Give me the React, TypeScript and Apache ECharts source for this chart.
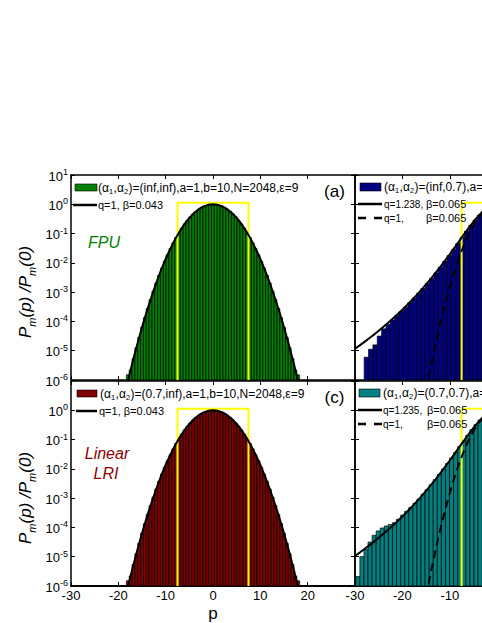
import React, { useEffect, useRef } from 'react';
import * as echarts from 'echarts';

const FONT = '"Liberation Sans", Arial, Helvetica, sans-serif';

// ---------- data ----------
const X_MIN = -30;
const Y_MIN = 1e-6;
const Y_MAX = 10;

// Gaussian fit q=1, beta=0.043 (panels a, c)
const GAUSS_P = [-18, -17, -16, -15, -14, -13, -12, -11, -10, -9, -8, -7, -6, -5, -4, -3, -2, -1, 0, 1, 2, 3, 4, 5, 6, 7, 8, 9, 10, 11, 12, 13, 14, 15, 16, 17, 18];
const CURVE_A = [8.9e-7, 4.01e-6, 1.66e-5, 6.28e-5, 2.19e-4, 6.98e-4, 2.04e-3, 5.5e-3, 1.357e-2, 3.07e-2, 6.38e-2, 0.1216, 0.213, 0.341, 0.503, 0.679, 0.842, 0.958, 1, 0.958, 0.842, 0.679, 0.503, 0.341, 0.213, 0.1216, 6.38e-2, 3.07e-2, 1.357e-2, 5.5e-3, 2.04e-3, 6.98e-4, 2.19e-4, 6.28e-5, 1.66e-5, 4.01e-6, 8.9e-7];
const CURVE_C = [8.9e-7, 4.01e-6, 1.66e-5, 6.28e-5, 2.19e-4, 6.98e-4, 2.04e-3, 5.5e-3, 1.357e-2, 3.07e-2, 6.38e-2, 0.1216, 0.213, 0.341, 0.503, 0.679, 0.842, 0.958, 1, 0.958, 0.842, 0.679, 0.503, 0.341, 0.213, 0.1216, 6.38e-2, 3.07e-2, 1.357e-2, 5.5e-3, 2.04e-3, 6.98e-4, 2.19e-4, 6.28e-5, 1.66e-5, 4.01e-6, 8.9e-7];

// histogram (a), (c)
const BIN_W_AC = 0.6;
const BAR_AC_P = [-18, -17.4, -16.8, -16.2, -15.6, -15, -14.4, -13.8, -13.2, -12.6, -12, -11.4, -10.8, -10.2, -9.6, -9, -8.4, -7.8, -7.2, -6.6, -6, -5.4, -4.8, -4.2, -3.6, -3, -2.4, -1.8, -1.2, -0.6, 0, 0.6, 1.2, 1.8, 2.4, 3, 3.6, 4.2, 4.8, 5.4, 6, 6.6, 7.2, 7.8, 8.4, 9, 9.6, 10.2, 10.8, 11.4, 12, 12.6, 13.2, 13.8, 14.4, 15, 15.6, 16.2, 16.8, 17.4, 18];
const BAR_A_V = [1.5e-6, 2.2e-6, 5.4e-6, 1.26e-5, 2.86e-5, 6.3e-5, 1.34e-4, 2.78e-4, 5.57e-4, 1.08e-3, 2.04e-3, 3.74e-3, 6.63e-3, 1.14e-2, 1.9e-2, 3.07e-2, 4.81e-2, 7.31e-2, 0.1076, 0.154, 0.213, 0.285, 0.371, 0.468, 0.573, 0.679, 0.781, 0.87, 0.94, 0.985, 0.99, 0.985, 0.94, 0.87, 0.781, 0.679, 0.573, 0.468, 0.371, 0.285, 0.213, 0.154, 0.1076, 7.31e-2, 4.81e-2, 3.07e-2, 1.9e-2, 1.14e-2, 6.63e-3, 3.74e-3, 2.04e-3, 1.08e-3, 5.57e-4, 2.78e-4, 1.34e-4, 6.3e-5, 2.86e-5, 1.26e-5, 5.4e-6, 2.2e-6, 1.5e-6];
const BAR_C_V = [1.5e-6, 2.2e-6, 5.4e-6, 1.26e-5, 2.86e-5, 6.3e-5, 1.34e-4, 2.78e-4, 5.57e-4, 1.08e-3, 2.04e-3, 3.74e-3, 6.63e-3, 1.14e-2, 1.9e-2, 3.07e-2, 4.81e-2, 7.31e-2, 0.1076, 0.154, 0.213, 0.285, 0.371, 0.468, 0.573, 0.679, 0.781, 0.87, 0.94, 0.985, 0.99, 0.985, 0.94, 0.87, 0.781, 0.679, 0.573, 0.468, 0.371, 0.285, 0.213, 0.154, 0.1076, 7.31e-2, 4.81e-2, 3.07e-2, 1.9e-2, 1.14e-2, 6.63e-3, 3.74e-3, 2.04e-3, 1.08e-3, 5.57e-4, 2.78e-4, 1.34e-4, 6.3e-5, 2.86e-5, 1.26e-5, 5.4e-6, 2.2e-6, 1.5e-6];

// q-Gaussian fits (panels b, d) and Gaussian q=1, beta=0.065
const RIGHT_P = [-30, -29, -28, -27, -26, -25, -24, -23, -22, -21, -20, -19, -18, -17, -16, -15, -14, -13, -12, -11, -10, -9, -8, -7, -6, -5, -4, -3, -2, -1, 0];
const CURVE_B = [1.166e-5, 1.52e-5, 2.0e-5, 2.65e-5, 3.55e-5, 4.79e-5, 6.53e-5, 8.99e-5, 1.252e-4, 1.764e-4, 2.52e-4, 3.64e-4, 5.33e-4, 7.93e-4, 1.197e-3, 1.835e-3, 2.86e-3, 4.52e-3, 7.27e-3, 1.188e-2, 1.968e-2, 3.29e-2, 5.55e-2, 9.34e-2, 0.1556, 0.2531, 0.3949, 0.578, 0.777, 0.9375, 1];
const CURVE_D = [1.06e-5, 1.385e-5, 1.83e-5, 2.44e-5, 3.27e-5, 4.43e-5, 6.06e-5, 8.37e-5, 1.171e-4, 1.656e-4, 2.37e-4, 3.44e-4, 5.06e-4, 7.57e-4, 1.147e-3, 1.765e-3, 2.76e-3, 4.39e-3, 7.09e-3, 1.163e-2, 1.934e-2, 3.25e-2, 5.49e-2, 9.28e-2, 0.1549, 0.2525, 0.3944, 0.578, 0.7769, 0.9375, 1];
const DASH_P = [-15, -14, -13, -12, -11, -10, -9, -8, -7, -6, -5, -4, -3, -2, -1, 0];
const DASH_V = [4.4e-7, 2.93e-6, 1.69e-5, 8.6e-5, 3.84e-4, 1.5e-3, 5.17e-3, 1.56e-2, 4.14e-2, 9.63e-2, 0.197, 0.353, 0.557, 0.771, 0.937, 1];

// histogram (b)
const BIN_W_B = 0.92;
const BAR_B_P = [-27.6, -26.68, -25.76, -24.84, -23.92, -23.0, -22.08, -21.16, -20.24, -19.32, -18.4, -17.48, -16.56, -15.64, -14.72, -13.8, -12.88, -11.96, -11.04, -10.12, -9.2, -8.28, -7.36, -6.44, -5.52, -4.6, -3.68, -2.76];
const BAR_B_V = [6.0e-6, 1.12e-5, 1.58e-5, 3.16e-5, 5.6e-5, 7.9e-5, 1.12e-4, 1.58e-4, 2.19e-4, 3.02e-4, 4.37e-4, 6.2e-4, 9.1e-4, 1.32e-3, 1.95e-3, 2.95e-3, 4.57e-3, 7.1e-3, 1.12e-2, 1.78e-2, 2.82e-2, 4.57e-2, 7.41e-2, 0.12, 0.191, 0.288, 0.427, 0.603];

// histogram (d)
const BIN_W_D = 0.86;
const BAR_D_P = [-29.4, -28.54, -27.68, -26.82, -25.96, -25.1, -24.24, -23.38, -22.52, -21.66, -20.8, -19.94, -19.08, -18.22, -17.36, -16.5, -15.64, -14.78, -13.92, -13.06, -12.2, -11.34, -10.48, -9.62, -8.76, -7.9, -7.04, -6.18, -5.32, -4.46, -3.6];
const BAR_D_V = [2.1e-6, 1.0e-5, 1.78e-5, 3.16e-5, 5.37e-5, 7.59e-5, 9.55e-5, 1.12e-4, 1.26e-4, 1.45e-4, 1.91e-4, 2.63e-4, 3.55e-4, 4.79e-4, 6.61e-4, 9.33e-4, 1.35e-3, 1.95e-3, 2.88e-3, 4.27e-3, 6.46e-3, 9.77e-3, 1.51e-2, 2.34e-2, 3.63e-2, 5.75e-2, 9.12e-2, 0.141, 0.219, 0.324, 0.468];

// yellow window
const YELLOW_X = [-7.5, -7.5, 7.5, 7.5];
const YELLOW_Y = [1e-6, 1.12, 1.12, 1e-6];

// legend texts: [text, isSubscript]
const LEG_A: [string, boolean][] = [['(α', false], ['1', true], [',α', false], ['2', true], [')=(inf,inf),a=1,b=10,N=2048,ε=9', false]];
const LEG_B: [string, boolean][] = [['(α', false], ['1', true], [',α', false], ['2', true], [')=(inf,0.7),a=1,b=10,N=2048,ε=9', false]];
const LEG_C: [string, boolean][] = [['(α', false], ['1', true], [',α', false], ['2', true], [')=(0.7,inf),a=1,b=10,N=2048,ε=9', false]];
const LEG_D: [string, boolean][] = [['(α', false], ['1', true], [',α', false], ['2', true], [')=(0.7,0.7),a=1,b=10,N=2048,ε=9', false]];

const COLORS = { a: '#008000', b: '#000080', c: '#800000', d: '#008080' };

// ---------- helpers ----------
const zip = (a: number[], b: number[]) => a.map((v, i) => [v, b[i]]);

let measureCtx: CanvasRenderingContext2D | null = null;
function textWidth(s: string, size: number) {
  if (!measureCtx) measureCtx = document.createElement('canvas').getContext('2d');
  if (!measureCtx) return s.length * size * 0.55;
  measureCtx.font = `${size}px ${FONT}`;
  return measureCtx.measureText(s).width;
}

function barSeries(xi: number, yi: number, P: number[], V: number[], w: number, color: string) {
  return {
    type: 'custom',
    xAxisIndex: xi,
    yAxisIndex: yi,
    clip: true,
    z: 1,
    data: zip(P, V),
    renderItem: (params: any, api: any) => {
      const x = api.value(0) as number;
      const v = api.value(1) as number;
      const a = api.coord([x - w / 2, v]);
      const b = api.coord([x + w / 2, Y_MIN]);
      return {
        type: 'rect',
        shape: { x: a[0], y: a[1], width: b[0] - a[0], height: b[1] - a[1] },
        style: { fill: color, stroke: '#000', lineWidth: 0.7 },
      };
    },
  };
}

function lineSeries(xi: number, yi: number, P: number[], V: number[], color: string, width: number, dash?: number[], z = 3) {
  return {
    type: 'line',
    xAxisIndex: xi,
    yAxisIndex: yi,
    data: zip(P, V),
    symbol: 'none',
    clip: true,
    z,
    lineStyle: { color, width, type: dash ? dash : 'solid' },
  };
}

const GRIDS = [
  { left: 71, top: 175, width: 284, height: 205 },
  { left: 355, top: 175, width: 127, height: 205 },
  { left: 71, top: 381, width: 284, height: 205 },
  { left: 355, top: 381, width: 127, height: 205 },
];
const X_MAX = [30, -3.2, 30, -3.2];

function buildXAxes() {
  const axes: any[] = [];
  GRIDS.forEach((g, i) => {
    const bottomPanel = i >= 2;
    axes.push({
      type: 'value', gridIndex: i, position: 'bottom', min: X_MIN, max: X_MAX[i], interval: 10,
      axisLine: { show: true, onZero: false, lineStyle: { color: '#000', width: bottomPanel ? 2 : 1.5 } },
      axisTick: { show: true, inside: true, length: 4, lineStyle: { color: '#000', width: 1 } },
      axisLabel: { show: bottomPanel, margin: 3, fontSize: 13, fontFamily: FONT, color: '#000', showMaxLabel: false, showMinLabel: true },
      splitLine: { show: false },
    });
    axes.push({
      type: 'value', gridIndex: i, position: 'top', min: X_MIN, max: X_MAX[i], interval: 10,
      axisLine: { show: true, onZero: false, lineStyle: { color: '#000', width: 1.5 } },
      axisTick: { show: true, inside: true, length: 4, lineStyle: { color: '#000', width: 1 } },
      axisLabel: { show: false },
      splitLine: { show: false },
    });
  });
  return axes;
}

const Y_RICH = {
  b: { fontSize: 13, fontFamily: FONT, color: '#000', lineHeight: 15, verticalAlign: 'bottom' },
  s: { fontSize: 9, fontFamily: FONT, color: '#000', lineHeight: 9, verticalAlign: 'top' },
};

function yBase(i: number) {
  return { type: 'log', logBase: 10, gridIndex: i, min: Y_MIN, max: Y_MAX, splitNumber: 7, splitLine: { show: false }, minorTick: { show: false } };
}

function buildYAxes() {
  // index map: a:0 (left),1 (right); b:2 (left in),3 (left out); c:4,5; d:6,7
  const axes: any[] = [];
  [0, 2].forEach((i) => {
    axes.push({
      ...yBase(i), position: 'left',
      axisLine: { show: true, onZero: false, lineStyle: { color: '#000', width: 1.5 } },
      axisTick: { show: true, inside: true, length: 4, lineStyle: { color: '#000', width: 1 } },
      axisLabel: {
        show: true, margin: 3, showMaxLabel: i === 0,
        formatter: (v: number) => `{b|10}{s|${Math.round(Math.log10(v))}}`,
        rich: Y_RICH,
      },
    });
    axes.push({
      ...yBase(i), position: 'right',
      axisLine: { show: true, onZero: false, lineStyle: { color: '#000', width: 1.5 } },
      axisTick: { show: false }, axisLabel: { show: false },
    });
    const j = i + 1;
    axes.push({
      ...yBase(j), position: 'left',
      axisLine: { show: true, onZero: false, lineStyle: { color: '#000', width: 1.5 } },
      axisTick: { show: true, inside: true, length: 4, lineStyle: { color: '#000', width: 1 } },
      axisLabel: { show: false },
    });
    axes.push({
      ...yBase(j), position: 'left',
      axisLine: { show: false, onZero: false },
      axisTick: { show: true, inside: false, length: 4, lineStyle: { color: '#000', width: 1 } },
      axisLabel: { show: false },
    });
  });
  return axes;
}

function txt(x: number, y: number, text: string, opts: any = {}) {
  return {
    type: 'text', x, y, z: 100,
    style: {
      text, fill: opts.fill || '#000', fontSize: opts.fontSize || 11, fontFamily: FONT,
      fontStyle: opts.fontStyle || 'normal',
      align: opts.align || 'left', verticalAlign: 'middle', rich: opts.rich,
    },
    rotation: opts.rotation || 0,
  };
}

// lay out a legend label made of normal and subscript parts
function legendText(x: number, y: number, parts: [string, boolean][], size: number) {
  const out: any[] = [];
  let cx = x;
  const subSize = 7.5;
  parts.forEach(([s, sub]) => {
    const fs = sub ? subSize : size;
    out.push(txt(cx, sub ? y + 3.5 : y, s, { fontSize: fs }));
    cx += textWidth(s, fs) + (sub ? 0.5 : 0);
  });
  return out;
}

function legendLine(x1: number, x2: number, y: number, dash?: number[]) {
  return {
    type: 'line', z: 100,
    shape: { x1, y1: y, x2, y2: y },
    style: { stroke: '#000', lineWidth: 2.5, lineDash: dash || null },
  };
}

function swatch(x: number, y: number, w: number, h: number, color: string) {
  return { type: 'rect', z: 100, shape: { x, y, width: w, height: h }, style: { fill: color, stroke: '#000', lineWidth: 0.6 } };
}

const YNAME_RICH = {
  i: { fontSize: 17, fontFamily: FONT, fontStyle: 'italic', fill: '#000', color: '#000', lineHeight: 20, verticalAlign: 'top' },
  s: { fontSize: 11, fontFamily: FONT, fontStyle: 'italic', fill: '#000', color: '#000', lineHeight: 11, verticalAlign: 'bottom' },
};
const YNAME = '{i|P}{s|m}{i|(p) /P}{s|m}{i|(0)}';

const LEG_SIZE = 12;

function buildGraphics() {
  const g: any[] = [];
  // (a)
  g.push(swatch(75, 184, 22, 7, COLORS.a));
  g.push(...legendText(98, 188, LEG_A, LEG_SIZE));
  g.push(legendLine(73, 97, 205));
  g.push(txt(98, 205, 'q=1, β=0.043'));
  g.push(txt(334.5, 191, '(a)', { fontSize: 17, align: 'center' }));
  g.push(txt(104, 242, 'FPU', { fontSize: 16, fontStyle: 'italic', fill: COLORS.a, align: 'center' }));
  // (b)
  g.push(swatch(360, 183, 21, 8, COLORS.b));
  g.push(...legendText(384, 187, LEG_B, LEG_SIZE));
  g.push(legendLine(358, 382, 204));
  g.push(txt(384, 204, 'q=1.238,', { fontSize: 10 }));
  g.push(txt(426, 204, 'β=0.065'));
  g.push(legendLine(358, 382, 218, [8, 8]));
  g.push(txt(384, 218, 'q=1,', { fontSize: 10 }));
  g.push(txt(426, 218, 'β=0.065'));
  // (c)
  g.push(swatch(77, 390, 20, 7, COLORS.c));
  g.push(...legendText(100, 394, LEG_C, LEG_SIZE));
  g.push(legendLine(76, 97, 411));
  g.push(txt(99, 411, 'q=1, β=0.043'));
  g.push(txt(334.5, 397, '(c)', { fontSize: 17, align: 'center' }));
  g.push(txt(107, 453, 'Linear', { fontSize: 16, fontStyle: 'italic', fill: '#8b0000', align: 'center' }));
  g.push(txt(106, 473, 'LRI', { fontSize: 16, fontStyle: 'italic', fill: '#8b0000', align: 'center' }));
  // (d)
  g.push(swatch(359, 389, 21, 8, COLORS.d));
  g.push(...legendText(383, 393, LEG_D, LEG_SIZE));
  g.push(legendLine(358, 382, 410));
  g.push(txt(383, 410, 'q=1.235,', { fontSize: 10 }));
  g.push(txt(427, 410, 'β=0.065'));
  g.push(legendLine(358, 382, 424, [8, 8]));
  g.push(txt(383, 424, 'q=1,', { fontSize: 10 }));
  g.push(txt(427, 424, 'β=0.065'));
  // axis names
  g.push(txt(27, 292, YNAME, { rich: YNAME_RICH, align: 'center', rotation: Math.PI / 2 }));
  g.push(txt(27, 498, YNAME, { rich: YNAME_RICH, align: 'center', rotation: Math.PI / 2 }));
  g.push(txt(213, 613, 'p', { fontSize: 17, align: 'center' }));
  return g;
}

function buildOption() {
  const series: any[] = [
    barSeries(0, 0, BAR_AC_P, BAR_A_V, BIN_W_AC, COLORS.a),
    lineSeries(0, 0, YELLOW_X, YELLOW_Y, '#ffff00', 2, undefined, 2),
    lineSeries(0, 0, GAUSS_P, CURVE_A, '#000', 2),

    barSeries(2, 2, BAR_B_P, BAR_B_V, BIN_W_B, COLORS.b),
    lineSeries(2, 2, YELLOW_X, YELLOW_Y, '#ffff00', 2, undefined, 2),
    lineSeries(2, 2, RIGHT_P, CURVE_B, '#000', 2),
    lineSeries(2, 2, DASH_P, DASH_V, '#000', 2, [8, 5]),

    barSeries(4, 4, BAR_AC_P, BAR_C_V, BIN_W_AC, COLORS.c),
    lineSeries(4, 4, YELLOW_X, YELLOW_Y, '#ffff00', 2, undefined, 2),
    lineSeries(4, 4, GAUSS_P, CURVE_C, '#000', 2),

    barSeries(6, 6, BAR_D_P, BAR_D_V, BIN_W_D, COLORS.d),
    lineSeries(6, 6, YELLOW_X, YELLOW_Y, '#ffff00', 2, undefined, 2),
    lineSeries(6, 6, RIGHT_P, CURVE_D, '#000', 2),
    lineSeries(6, 6, DASH_P, DASH_V, '#000', 2, [8, 5]),
  ];
  return {
    animation: false,
    backgroundColor: '#fff',
    grid: GRIDS.map((g) => ({ ...g, containLabel: false })),
    xAxis: buildXAxes(),
    yAxis: buildYAxes(),
    series,
    graphic: { elements: buildGraphics() },
  };
}

export default function App() {
  const ref = useRef<HTMLDivElement>(null);
  useEffect(() => {
    const chart = echarts.init(ref.current as HTMLDivElement, null, { renderer: 'svg' });
    chart.setOption(buildOption() as any);
    return () => chart.dispose();
  }, []);
  return (
    <div
      ref={ref}
      style={{ position: 'fixed', left: 0, top: 0, width: 482, height: 623, background: '#fff', overflow: 'hidden' }}
    />
  );
}
